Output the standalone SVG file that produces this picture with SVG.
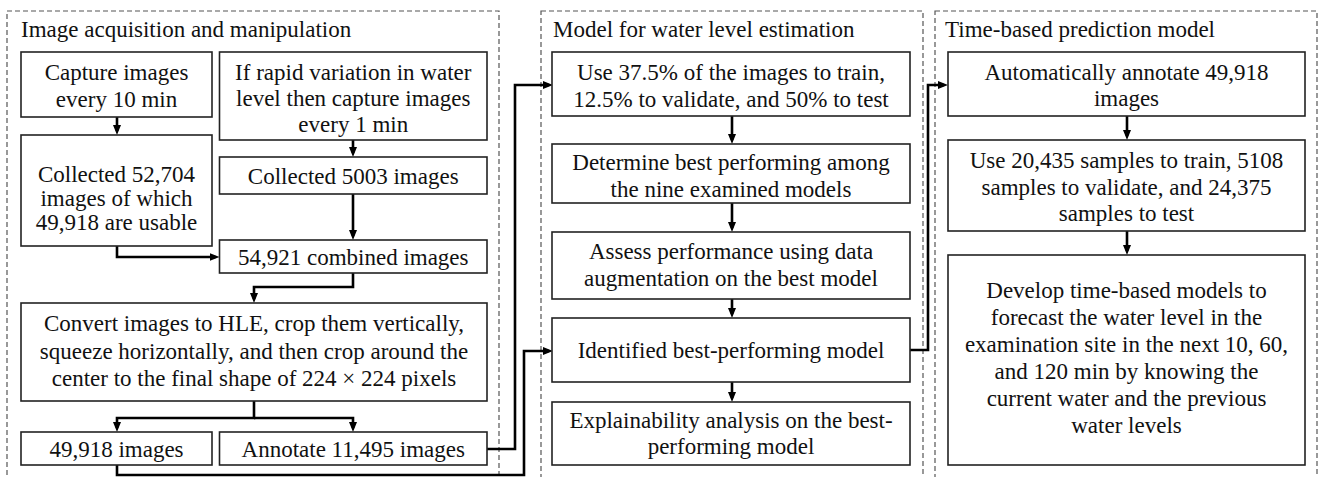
<svg xmlns="http://www.w3.org/2000/svg" width="1319" height="477" viewBox="0 0 1319 477">
<style>
.panel{fill:none;stroke:#555;stroke-width:1.2;stroke-dasharray:5 3}
.box{fill:#fff;stroke:#222;stroke-width:1.6}
.t{text-anchor:middle}
.c{fill:none;stroke:#000;stroke-width:2.6;marker-end:url(#ah)}
</style>
<defs>
<marker id="ah" viewBox="0 0 10 8" refX="6" refY="4" markerWidth="10" markerHeight="8" markerUnits="userSpaceOnUse" orient="auto">
<path d="M0,0 L10,4 L0,8 z" fill="#000"/>
</marker>
</defs>
<rect width="1319" height="477" fill="#fff"/>
<g font-family="Liberation Serif, Times New Roman, DejaVu Serif, serif" font-size="23" fill="#111">
<g id="panel1">
<rect class="panel" x="7" y="11" width="492" height="480"/>
<text x="21" y="37">Image acquisition and manipulation</text>
</g>
<g id="panel2">
<rect class="panel" x="541" y="11" width="382" height="480"/>
<text x="553" y="37">Model for water level estimation</text>
</g>
<g id="panel3">
<rect class="panel" x="935" y="11" width="382" height="480"/>
<text x="945" y="37">Time-based prediction model</text>
</g>
<g id="connectors">
<path class="c" d="M117,117 V131"/>
<path class="c" d="M353,140 V153"/>
<path class="c" d="M353,194 V236"/>
<path class="c" d="M117,246 V257 H215.5"/>
<path class="c" d="M353,273 V287 H254 V299"/>
<path class="c" d="M254,401 V418 H117 V428"/>
<path class="c" d="M254,418 H353 V428"/>
<path class="c" d="M487,449 H515 V85 H549"/>
<path class="c" d="M117,465 V475 H524 V351 H549"/>
<path class="c" d="M732,116 V140"/>
<path class="c" d="M732,203 V228"/>
<path class="c" d="M732,299 V314"/>
<path class="c" d="M732,382 V398"/>
<path class="c" d="M910,350 H928 V85 H944"/>
<path class="c" d="M1127,116 V136"/>
<path class="c" d="M1127,231 V251"/>
</g>
<g id="capture">
<rect class="box" x="21" y="52" width="191" height="65"/>
<text class="t" x="116.5" y="80">Capture images</text>
<text class="t" x="116.5" y="106.5">every 10 min</text>
</g>
<g id="collected52704">
<rect class="box" x="21" y="135" width="191" height="111"/>
<text class="t" x="116.5" y="182">Collected 52,704</text>
<text class="t" x="116.5" y="206">images of which</text>
<text class="t" x="116.5" y="230">49,918 are usable</text>
</g>
<g id="rapid">
<rect class="box" x="219.5" y="52" width="267.5" height="88"/>
<text class="t" x="353.25" y="80">If rapid variation in water</text>
<text class="t" x="353.25" y="106">level then capture images</text>
<text class="t" x="353.25" y="132">every 1 min</text>
</g>
<g id="collected5003">
<rect class="box" x="219.5" y="157" width="267.5" height="37"/>
<text class="t" x="353.25" y="184">Collected 5003 images</text>
</g>
<g id="combined">
<rect class="box" x="219.5" y="240" width="267.5" height="33"/>
<text class="t" x="353.25" y="265">54,921 combined images</text>
</g>
<g id="convert">
<rect class="box" x="21" y="303" width="466" height="98"/>
<text class="t" x="254" y="331">Convert images to HLE, crop them vertically,</text>
<text class="t" x="254" y="358.5">squeeze horizontally, and then crop around the</text>
<text class="t" x="254" y="386">center to the final shape of 224 × 224 pixels</text>
</g>
<g id="images49918">
<rect class="box" x="21" y="432" width="191" height="33"/>
<text class="t" x="116.5" y="457">49,918 images</text>
</g>
<g id="annotate">
<rect class="box" x="219.5" y="432" width="267.5" height="33"/>
<text class="t" x="353.25" y="457">Annotate 11,495 images</text>
</g>
<g id="split">
<rect class="box" x="552" y="52" width="358" height="64"/>
<text class="t" x="731" y="80">Use 37.5% of the images to train,</text>
<text class="t" x="731" y="106.5">12.5% to validate, and 50% to test</text>
</g>
<g id="determine">
<rect class="box" x="552" y="144" width="358" height="59"/>
<text class="t" x="731" y="170">Determine best performing among</text>
<text class="t" x="731" y="196.5">the nine examined models</text>
</g>
<g id="assess">
<rect class="box" x="552" y="232" width="358" height="67"/>
<text class="t" x="731" y="259">Assess performance using data</text>
<text class="t" x="731" y="286">augmentation on the best model</text>
</g>
<g id="identified">
<rect class="box" x="552" y="318" width="358" height="64"/>
<text class="t" x="731" y="358">Identified best-performing model</text>
</g>
<g id="explain">
<rect class="box" x="552" y="402" width="358" height="63"/>
<text class="t" x="731" y="427.5">Explainability analysis on the best-</text>
<text class="t" x="731" y="454">performing model</text>
</g>
<g id="autoannotate">
<rect class="box" x="948" y="52" width="357" height="64"/>
<text class="t" x="1126.5" y="80">Automatically annotate 49,918</text>
<text class="t" x="1126.5" y="106">images</text>
</g>
<g id="samples">
<rect class="box" x="948" y="140" width="357" height="91"/>
<text class="t" x="1126.5" y="168">Use 20,435 samples to train, 5108</text>
<text class="t" x="1126.5" y="194.5">samples to validate, and 24,375</text>
<text class="t" x="1126.5" y="221">samples to test</text>
</g>
<g id="develop">
<rect class="box" x="948" y="255" width="357" height="210"/>
<text class="t" x="1126.5" y="298">Develop time-based models to</text>
<text class="t" x="1126.5" y="325">forecast the water level in the</text>
<text class="t" x="1126.5" y="352">examination site in the next 10, 60,</text>
<text class="t" x="1126.5" y="379">and 120 min by knowing the</text>
<text class="t" x="1126.5" y="406">current water and the previous</text>
<text class="t" x="1126.5" y="433">water levels</text>
</g>
</g>
</svg>
